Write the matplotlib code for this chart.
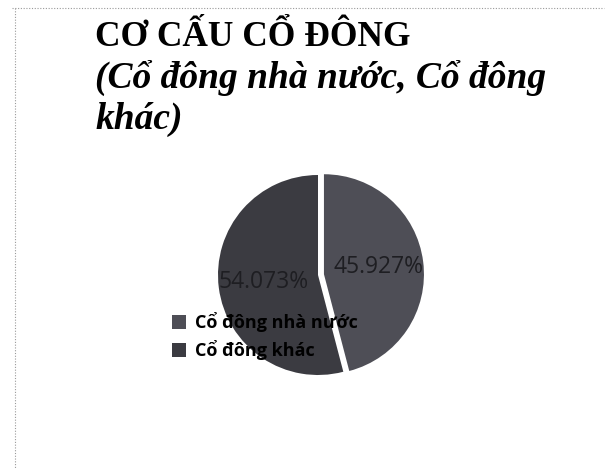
import matplotlib.pyplot as plt
from matplotlib.lines import Line2D

# data
labels = ['Cổ đông nhà nước', 'Cổ đông khác']
values = [45.927, 54.073]
colors = ['#4e4e56', '#3b3b41']
explode = [0.06, 0]

W, H = 610, 468
fig = plt.figure(figsize=(W / 100, H / 100), dpi=100)
fig.patch.set_facecolor('white')

# dotted page border (top and left)
fig.add_artist(Line2D([12 / W, 604 / W], [1 - 8 / H, 1 - 8 / H], color='#9a9a9a',
                      lw=0.8, ls=(0, (1, 1.5))))
fig.add_artist(Line2D([15 / W, 15 / W], [1 - 8 / H, 0], color='#9a9a9a',
                      lw=0.8, ls=(0, (1, 1.5))))

# title
title_font = ['Liberation Serif', 'DejaVu Serif']
fig.text(95 / W, 1 - 46 / H, 'CƠ CẤU CỔ ĐÔNG', family=title_font, weight='bold',
         fontsize=25.5, va='baseline', ha='left')
fig.text(95 / W, 1 - 88 / H, '(Cổ đông nhà nước, Cổ đông', family=title_font,
         weight='bold', style='italic', fontsize=27, va='baseline', ha='left')
fig.text(95 / W, 1 - 129 / H, 'khác)', family=title_font, weight='bold',
         style='italic', fontsize=27, va='baseline', ha='left')

# pie
cx, cy, r = 318, 275, 100
ax = fig.add_axes([(cx - 1.1 * r) / W, (H - cy - 1.1 * r) / H, 2.2 * r / W, 2.2 * r / H])
wedges, texts, autotexts = ax.pie(values, colors=colors, startangle=90, counterclock=False,
                                  explode=explode, autopct='%.3f%%', pctdistance=0.55,
                                  textprops=dict(family=['Open Sans', 'DejaVu Sans'],
                                                 fontsize=16.5, color='#1e1e22'))
ax.set_xlim(-1.1, 1.1)
ax.set_ylim(-1.1, 1.1)
ax.set_aspect('equal')
ax.axis('off')

fig.legend(wedges, labels, loc='upper left', bbox_to_anchor=(172 / W, 1 - 312 / H),
           frameon=False, handlelength=0.8, handleheight=0.8, handletextpad=0.5,
           labelspacing=0.45, borderpad=0, borderaxespad=0,
           prop=dict(family=['Open Sans', 'DejaVu Sans'], weight='bold', size=13))

fig.savefig('out.png', dpi=100)
